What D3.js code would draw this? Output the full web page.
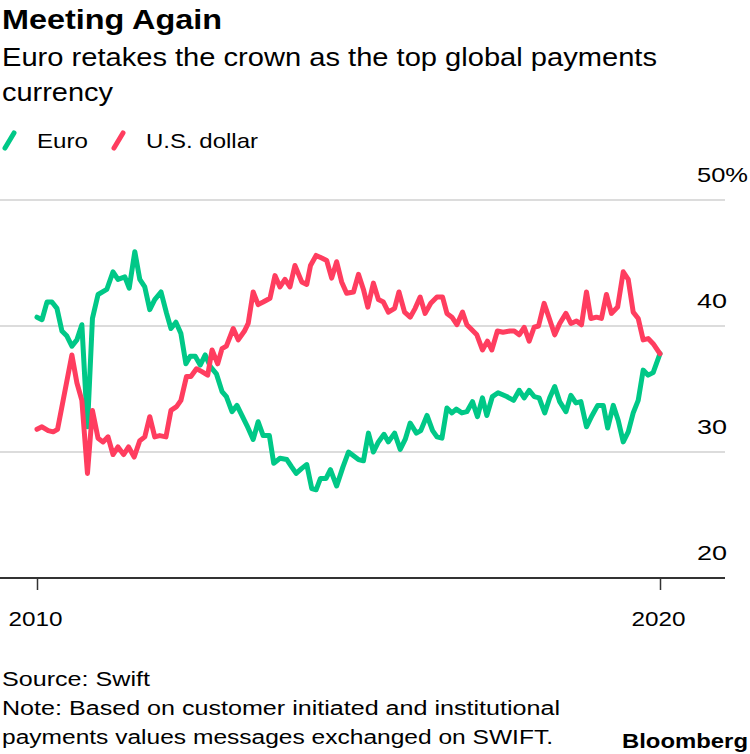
<!DOCTYPE html>
<html>
<head>
<meta charset="utf-8">
<script src="https://cdn.jsdelivr.net/npm/d3@7"></script>
<style>
  html, body { margin: 0; padding: 0; background: #fff; }
  svg { display: block; }
  text { font-family: "Liberation Sans", Arial, sans-serif; fill: #000; }
</style>
</head>
<body>
<svg id="chart" width="750" height="754"></svg>
<script>
// ---- Data (share of global payments, %) ----
const euroDates = [2010.00,2010.08,2010.16,2010.24,2010.32,2010.40,2010.48,2010.56,2010.64,2010.72,2010.81,2010.89,2010.98,
  2011.12,2011.22,2011.30,2011.41,2011.48,2011.57,2011.65,2011.73,2011.81,2011.89,2011.99,
  2012.08,2012.15,2012.23,2012.31,2012.39,2012.46,2012.54,2012.62,2012.70,2012.78,2012.88,2012.97,
  2013.04,2013.13,2013.21,2013.37,2013.47,2013.55,2013.63,2013.73,2013.80,2013.90,
  2014.01,2014.09,2014.16,2014.25,2014.33,2014.41,2014.48,2014.55,2014.64,2014.71,2014.81,2014.91,
  2015.00,2015.08,2015.16,2015.24,2015.32,2015.40,2015.48,2015.57,2015.64,2015.74,2015.83,2015.91,2015.99,
  2016.09,2016.16,2016.26,2016.35,2016.42,2016.50,2016.58,2016.66,2016.73,2016.82,2016.90,2016.99,
  2017.07,2017.15,2017.22,2017.31,2017.40,2017.54,2017.65,2017.74,2017.82,2017.90,2017.98,
  2018.06,2018.15,2018.23,2018.31,2018.39,2018.49,2018.57,2018.65,2018.73,2018.82,2018.91,
  2019.00,2019.09,2019.16,2019.25,2019.33,2019.41,2019.49,2019.57,2019.65,2019.73,2019.81,2019.89,2020.00];
const euroValues = [40.7,40.5,41.9,41.9,41.4,39.6,39.2,38.4,38.9,40.1,32.0,40.6,42.5,
  42.9,44.3,43.7,43.9,43.0,45.9,43.7,43.1,41.3,42.1,42.7,
  41.0,39.8,40.3,39.4,37.0,37.6,37.6,36.9,37.7,36.8,36.2,34.8,
  34.4,33.2,33.7,32.1,31.0,32.4,31.3,31.3,29.1,29.5,
  29.4,28.8,28.3,28.7,29.0,27.1,27.0,27.9,27.9,28.6,27.3,28.8,
  30.0,29.7,29.4,29.3,31.5,30.0,30.8,31.4,30.8,31.5,30.2,31.0,32.3,
  31.5,31.7,32.9,31.7,31.2,31.1,33.5,33.1,33.4,33.1,33.2,34.0,
  32.8,34.3,32.9,34.4,34.7,34.4,34.1,34.9,34.3,34.9,34.4,
  34.3,33.1,34.3,35.2,34.0,33.2,34.5,33.9,34.0,32.0,32.9,
  33.7,33.7,31.9,33.7,32.5,30.8,31.6,33.1,34.1,36.5,36.1,36.3,37.8];

const usdDates = [2010.00,2010.08,2010.18,2010.26,2010.33,2010.42,2010.56,2010.64,2010.72,2010.81,2010.89,2010.98,
  2011.06,2011.14,2011.22,2011.30,2011.39,2011.47,2011.56,2011.65,2011.73,2011.81,2011.89,2011.97,
  2012.07,2012.15,2012.24,2012.31,2012.40,2012.47,2012.56,2012.64,2012.74,2012.81,2012.90,2012.97,
  2013.04,2013.15,2013.23,2013.33,2013.39,2013.47,2013.55,2013.63,2013.74,2013.82,2013.90,2013.98,
  2014.06,2014.14,2014.25,2014.33,2014.39,2014.48,2014.57,2014.65,2014.73,2014.81,2014.89,2014.97,
  2015.08,2015.16,2015.24,2015.31,2015.40,2015.48,2015.56,2015.64,2015.74,2015.81,2015.90,2015.99,
  2016.07,2016.15,2016.23,2016.32,2016.42,2016.51,2016.58,2016.66,2016.74,2016.83,2016.90,2016.98,
  2017.06,2017.15,2017.23,2017.30,2017.39,2017.48,2017.59,2017.66,2017.74,2017.82,2017.90,2017.98,
  2018.05,2018.14,2018.23,2018.31,2018.39,2018.49,2018.57,2018.66,2018.74,2018.82,2018.89,2018.98,
  2019.06,2019.14,2019.22,2019.32,2019.41,2019.49,2019.57,2019.65,2019.73,2019.81,2019.89,2020.00];
const usdValues = [31.8,32.0,31.7,31.6,31.8,34.1,37.7,35.5,34.1,28.3,33.3,31.1,
  30.8,31.2,29.8,30.4,29.8,30.4,29.6,30.9,31.2,32.8,31.2,31.3,
  31.2,33.3,33.6,34.1,36.0,36.0,36.6,36.4,36.1,38.1,37.0,38.2,
  38.4,39.8,38.9,39.6,40.2,42.7,41.7,41.9,42.2,44.0,43.1,43.7,
  43.1,44.8,43.5,43.3,44.8,45.6,45.4,45.2,43.8,45.1,43.5,42.6,
  42.7,44.1,42.9,41.5,43.4,42.1,41.9,41.1,41.4,42.7,41.1,40.7,
  41.4,42.3,41.0,41.8,42.3,42.3,41.0,40.7,40.1,41.1,40.1,39.7,
  39.3,38.1,38.8,38.1,39.6,39.5,39.6,39.6,39.3,39.9,38.8,39.9,
  40.0,41.8,40.5,39.3,40.2,41.0,40.2,40.4,40.1,42.7,40.6,40.7,
  40.6,42.5,41.0,41.5,44.3,43.7,41.1,40.6,38.9,39.0,38.6,37.8];

const yTicks = [20, 30, 40, 50];
const xTicks = [2010, 2020];
const seriesNames = ["Euro", "U.S. dollar"];
const seriesColors = ["#00c887", "#ff3d5f"];

// ---- Drawing ----
const svg = d3.select("#chart");
const x = d3.scaleLinear().domain([2010, 2020]).range([37, 660]);
const y = d3.scaleLinear().domain([20, 50]).range([578, 200]);

function addText(parent, tx, ty, str, size, width, opts = {}) {
  const t = parent.append("text").attr("x", tx).attr("y", ty)
    .style("font-size", size + "px").text(str);
  if (opts.bold) t.style("font-weight", "bold");
  if (opts.anchor) t.attr("text-anchor", opts.anchor);
  if (width) t.attr("textLength", width).attr("lengthAdjust", "spacingAndGlyphs");
  return t;
}

// Title, subtitle
addText(svg, 2, 29, "Meeting Again", 28, 220, { bold: true });
addText(svg, 2, 66, "Euro retakes the crown as the top global payments", 25, 655);
addText(svg, 2, 101, "currency", 25, 111);

// Legend
const legendX = [0, 109];
const legendW = [51, 112];
seriesNames.forEach((name, i) => {
  const g = svg.append("g").attr("transform", `translate(${legendX[i]},0)`);
  g.append("line").attr("x1", 5).attr("y1", 148).attr("x2", 14).attr("y2", 133)
    .attr("stroke", seriesColors[i]).attr("stroke-width", 5).attr("stroke-linecap", "round");
  addText(g, 37, 148, name, 21, legendW[i]);
});

// Gridlines
svg.append("g").selectAll("line").data(yTicks.filter(d => d !== 20)).join("line")
  .attr("x1", 0).attr("x2", 725)
  .attr("y1", d => y(d)).attr("y2", d => y(d))
  .attr("stroke", "#dcdcdc").attr("stroke-width", 2);

// Y labels
svg.append("g").selectAll("text").data(yTicks).join("text")
  .attr("x", 697).attr("y", d => y(d) - 18)
  .style("font-size", "21px")
  .attr("textLength", d => d === 50 ? 51 : 30).attr("lengthAdjust", "spacingAndGlyphs")
  .text(d => d === 50 ? d + "%" : d);

// X axis
const xAxis = d3.axisBottom(x).tickValues(xTicks).tickFormat(d3.format("d")).tickSize(12).tickPadding(21);
const xg = svg.append("g").attr("transform", `translate(0,${y(20)})`).call(xAxis);
xg.select(".domain").remove();
xg.selectAll(".tick line").attr("stroke", "#333").attr("stroke-width", 1.5);
xg.selectAll(".tick text").style("font-size", "21px")
  .style("font-family", '"Liberation Sans", Arial, sans-serif').attr("fill", "#000")
  .attr("x", -2).attr("textLength", 54).attr("lengthAdjust", "spacingAndGlyphs");
svg.append("line").attr("x1", 0).attr("x2", 725).attr("y1", y(20)).attr("y2", y(20))
  .attr("stroke", "#333").attr("stroke-width", 2);

// Lines
const line = d3.line().x(d => x(d[0])).y(d => y(d[1]));
const euroData = euroDates.map((d, i) => [d, euroValues[i]]);
const usdData = usdDates.map((d, i) => [d, usdValues[i]]);
[euroData, usdData].forEach((data, i) => {
  svg.append("path").datum(data).attr("d", line)
    .attr("fill", "none").attr("stroke", seriesColors[i])
    .attr("stroke-width", 5).attr("stroke-linejoin", "round").attr("stroke-linecap", "round");
});

// Footer
addText(svg, 2, 686, "Source: Swift", 20, 148);
addText(svg, 2, 715, "Note: Based on customer initiated and institutional", 20, 558);
addText(svg, 2, 744, "payments values messages exchanged on SWIFT.", 20, 551);
addText(svg, 748, 748, "Bloomberg", 20, 126, { bold: true, anchor: "end" });
</script>
</body>
</html>
